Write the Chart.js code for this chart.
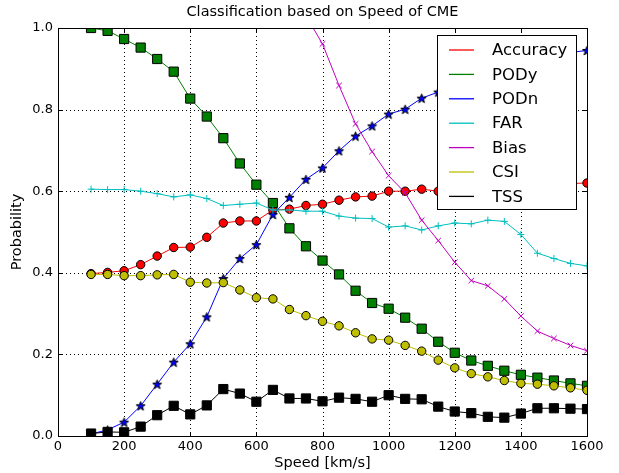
<!DOCTYPE html>
<html>
<head>
<meta charset="utf-8">
<script src="https://cdn.jsdelivr.net/npm/chart.js@4.4.0/dist/chart.umd.min.js"></script>
<style>
  html, body { margin: 0; padding: 0; background: #fff; }
</style>
</head>
<body>
<canvas id="chart" width="619" height="473"></canvas>
<script>
// ===== DATA =====
const speeds = [100, 150, 200, 250, 300, 350, 400, 450, 500, 550, 600, 650, 700, 750, 800,
  850, 900, 950, 1000, 1050, 1100, 1150, 1200, 1250, 1300, 1350, 1400, 1450, 1500, 1550, 1600];

const accuracy = [0.398, 0.401, 0.405, 0.420, 0.441, 0.462, 0.463, 0.487, 0.522, 0.527, 0.527, 0.554, 0.556, 0.565, 0.568,
  0.578, 0.586, 0.588, 0.600, 0.600, 0.605, 0.600, 0.605, 0.610, 0.610, 0.612, 0.615, 0.617, 0.618, 0.619, 0.620];
const pody = [1.000, 0.993, 0.973, 0.952, 0.924, 0.893, 0.827, 0.783, 0.730, 0.668, 0.616, 0.571, 0.509, 0.465, 0.430,
  0.396, 0.356, 0.326, 0.312, 0.290, 0.263, 0.231, 0.204, 0.185, 0.172, 0.160, 0.150, 0.143, 0.136, 0.129, 0.123];
const podn = [0.005, 0.015, 0.034, 0.074, 0.127, 0.181, 0.226, 0.292, 0.386, 0.435, 0.469, 0.543, 0.585, 0.629, 0.657,
  0.699, 0.735, 0.760, 0.789, 0.801, 0.828, 0.843, 0.860, 0.875, 0.888, 0.900, 0.912, 0.922, 0.932, 0.940, 0.945];
const far = [0.605, 0.604, 0.604, 0.600, 0.594, 0.586, 0.591, 0.582, 0.565, 0.568, 0.571, 0.554, 0.554, 0.551, 0.551,
  0.539, 0.534, 0.533, 0.512, 0.515, 0.505, 0.515, 0.522, 0.520, 0.529, 0.526, 0.494, 0.448, 0.435, 0.423, 0.417];
const bias = [null, null, null, null, null, null, null, null, null, null, null, null, null, 1.030, 0.961,
  0.859, 0.765, 0.697, 0.638, 0.596, 0.529, 0.479, 0.426, 0.381, 0.368, 0.336, 0.294, 0.257, 0.239, 0.222, 0.209];
const csi = [0.396, 0.396, 0.393, 0.393, 0.395, 0.396, 0.377, 0.375, 0.376, 0.358, 0.339, 0.336, 0.310, 0.295, 0.281,
  0.270, 0.253, 0.238, 0.235, 0.222, 0.208, 0.186, 0.167, 0.153, 0.145, 0.136, 0.129, 0.127, 0.123, 0.118, 0.112];
const tss = [0.006, 0.010, 0.009, 0.023, 0.051, 0.074, 0.053, 0.075, 0.115, 0.104, 0.084, 0.113, 0.092, 0.092, 0.085,
  0.094, 0.091, 0.084, 0.100, 0.091, 0.090, 0.072, 0.060, 0.056, 0.047, 0.045, 0.055, 0.068, 0.068, 0.067, 0.066];

const xTicks = [0, 200, 400, 600, 800, 1000, 1200, 1400, 1600];
const yTicks = [0, 0.2, 0.4, 0.6, 0.8, 1.0];

const titleText = "Classification based on Speed of CME";
const FONT = "'DejaVu Sans', sans-serif";

// filled 5 point star like matplotlib '*'
function makeStar(size, fill, stroke) {
  const c = document.createElement("canvas");
  c.width = size;
  c.height = size;
  const ctx = c.getContext("2d");
  const cx = size / 2, cy = size / 2 + 0.5;
  const R = size / 2 - 0.7, r = R * 0.42;
  ctx.beginPath();
  for (let i = 0; i < 10; i++) {
    const a = -Math.PI / 2 + i * Math.PI / 5;
    const rad = i % 2 ? r : R;
    ctx.lineTo(cx + rad * Math.cos(a), cy + rad * Math.sin(a));
  }
  ctx.closePath();
  ctx.fillStyle = fill;
  ctx.fill();
  ctx.lineWidth = 1;
  ctx.strokeStyle = stroke;
  ctx.stroke();
  return c;
}

function series(label, values, color, marker) {
  return {
    label: label,
    data: speeds.map((s, i) => ({ x: s, y: values[i] })),
    borderColor: color,
    backgroundColor: color,
    borderWidth: 1,
    tension: 0,
    spanGaps: false,
    pointStyle: marker.style,
    pointRadius: marker.radius,
    pointBackgroundColor: marker.fill,
    pointBorderColor: marker.edge,
    pointBorderWidth: 1,
    pointHoverRadius: marker.radius
  };
}

const datasets = [
  series("Accuracy", accuracy, "#ff0000", { style: "circle", radius: 4.2, fill: "#ff0000", edge: "#000" }),
  series("PODy", pody, "#008000", { style: "rect", radius: 6.5, fill: "#008000", edge: "#000" }),
  series("PODn", podn, "#0000ff", { style: makeStar(11, "#0000ff", "#000"), radius: 5.5, fill: "#0000ff", edge: "#000" }),
  series("FAR", far, "#00bfbf", { style: "cross", radius: 3.5, fill: "#00bfbf", edge: "#00bfbf" }),
  series("Bias", bias, "#bf00bf", { style: "crossRot", radius: 4, fill: "#bf00bf", edge: "#bf00bf" }),
  series("CSI", csi, "#bfbf00", { style: "circle", radius: 4.2, fill: "#bfbf00", edge: "#000" }),
  series("TSS", tss, "#000000", { style: "rect", radius: 6.5, fill: "#000000", edge: "#000" })
];
// matplotlib draws later lines on top
datasets.forEach((d, i) => { d.order = datasets.length - i; });

// ===== DOTTED GRID =====
const dottedGrid = {
  id: "dottedGrid",
  beforeDatasetsDraw(chart) {
    const { ctx, chartArea: a, scales } = chart;
    ctx.save();
    ctx.strokeStyle = "#000";
    ctx.lineWidth = 1;
    ctx.setLineDash([1, 3]);
    ctx.beginPath();
    xTicks.forEach(v => {
      const px = Math.round(scales.x.getPixelForValue(v)) + 0.5;
      ctx.moveTo(px, a.top);
      ctx.lineTo(px, a.bottom);
    });
    yTicks.forEach(v => {
      const py = Math.round(scales.y.getPixelForValue(v)) + 0.5;
      ctx.moveTo(a.left, py);
      ctx.lineTo(a.right, py);
    });
    ctx.stroke();
    ctx.restore();
  }
};

// ===== FRAME, TICKS, TITLE, LEGEND =====
const decorations = {
  id: "decorations",
  afterDatasetsDraw(chart) {
    const { ctx, chartArea: a, scales } = chart;
    ctx.save();
    // inward ticks on all sides
    ctx.strokeStyle = "#000";
    ctx.lineWidth = 1;
    ctx.beginPath();
    xTicks.forEach(v => {
      const px = Math.round(scales.x.getPixelForValue(v)) + 0.5;
      ctx.moveTo(px, a.bottom); ctx.lineTo(px, a.bottom - 4);
      ctx.moveTo(px, a.top); ctx.lineTo(px, a.top + 4);
    });
    yTicks.forEach(v => {
      const py = Math.round(scales.y.getPixelForValue(v)) + 0.5;
      ctx.moveTo(a.left, py); ctx.lineTo(a.left + 4, py);
      ctx.moveTo(a.right, py); ctx.lineTo(a.right - 4, py);
    });
    ctx.stroke();
    // frame
    ctx.strokeRect(Math.round(a.left) + 0.5, Math.round(a.top) + 0.5,
      Math.round(a.right - a.left), Math.round(a.bottom - a.top));

    // title
    ctx.fillStyle = "#000";
    ctx.font = "14.5px " + FONT;
    ctx.textAlign = "center";
    ctx.textBaseline = "middle";
    ctx.fillText(titleText, (a.left + a.right) / 2, 12);

    // legend box
    const bx = 437.5, by = 35.5, bw = 139, bh = 174;
    ctx.fillStyle = "#fff";
    ctx.fillRect(bx, by, bw, bh);
    ctx.strokeStyle = "#000";
    ctx.strokeRect(bx, by, bw, bh);
    ctx.font = "16.5px " + FONT;
    ctx.textAlign = "left";
    chart.data.datasets.forEach((d, i) => {
      const y = 50 + i * 24.4;
      ctx.strokeStyle = d.borderColor;
      ctx.lineWidth = 1.3;
      ctx.beginPath();
      ctx.moveTo(449, y);
      ctx.lineTo(474, y);
      ctx.stroke();
      ctx.fillStyle = "#000";
      ctx.fillText(d.label, 492, y + 1);
    });
    ctx.restore();
  }
};

// ===== CHART =====
const chart = new Chart(document.getElementById("chart"), {
  type: "line",
  data: { datasets: datasets },
  options: {
    responsive: false,
    animation: false,
    devicePixelRatio: 1,
    layout: { padding: { left: 0, right: 32, top: 28, bottom: 0 } },
    plugins: {
      legend: { display: false },
      title: { display: false },
      tooltip: { enabled: false }
    },
    scales: {
      x: {
        type: "linear",
        min: 0,
        max: 1600,
        afterBuildTicks: scale => { scale.ticks = xTicks.map(v => ({ value: v })); },
        afterFit: scale => { scale.height = 37; },
        grid: { display: false, drawTicks: false },
        border: { display: false },
        ticks: {
          color: "#000",
          padding: 3,
          maxRotation: 0,
          font: { family: FONT, size: 13 },
          callback: v => String(v)
        },
        title: {
          display: true,
          text: "Speed [km/s]",
          color: "#000",
          font: { family: FONT, size: 14.5 },
          padding: { top: 0, bottom: 1 }
        }
      },
      y: {
        min: 0,
        max: 1,
        afterBuildTicks: scale => { scale.ticks = yTicks.map(v => ({ value: v })); },
        afterFit: scale => { scale.width = 58; },
        grid: { display: false, drawTicks: false },
        border: { display: false },
        ticks: {
          color: "#000",
          padding: 5,
          font: { family: FONT, size: 13 },
          callback: v => v.toFixed(1)
        },
        title: {
          display: true,
          text: "Probability",
          color: "#000",
          font: { family: FONT, size: 14.5 },
          padding: { top: 9, bottom: 0 }
        }
      }
    }
  },
  plugins: [dottedGrid, decorations]
});
</script>
</body>
</html>
